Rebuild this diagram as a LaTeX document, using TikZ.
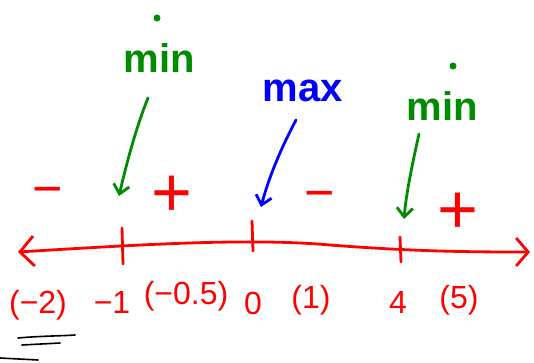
\documentclass[tikz,border=0pt]{standalone}
\usepackage{fontspec}
\setmainfont{Liberation Sans}
\usetikzlibrary{arrows.meta}
\definecolor{hgreen}{RGB}{0,140,0}
\definecolor{hred}{RGB}{255,0,0}
\definecolor{hblue}{RGB}{0,0,255}
\begin{document}
\begin{tikzpicture}[x=1pt,y=-1pt,
  pen/.style={line width=2.8pt,line cap=round,line join=round},
  lbl/.style={font=\fontsize{32}{34}\selectfont,inner sep=0pt,text=hred},
  word/.style={font=\fontsize{40}{42}\selectfont\bfseries,inner sep=0pt},
  sgnm/.style={font=\fontsize{52}{54}\selectfont,inner sep=0pt,text=hred},
  sgnp/.style={font=\fontsize{70}{72}\selectfont,inner sep=0pt,text=hred},
  callout/.style={pen,-{Straight Barb[length=9pt,width=16pt]}}]
\useasboundingbox (0,0) rectangle (534,363);
% dots
\fill[hgreen] (157,18) circle (3.5pt) coordinate (dot1);
\fill[hgreen] (453,66) circle (3.5pt) coordinate (dot2);
% words
\node[word,text=hgreen] (min1) at (159,58) {min};
\node[word,text=hblue] (max) at (303,91) {max};
\node[word,text=hgreen] (min2) at (442,106) {min};
% number line
\coordinate (L) at (18,252);
\coordinate (R) at (530,252);
\draw[pen,hred,{Straight Barb[length=14pt,width=30pt]}-{Straight Barb[length=12pt,width=28pt]}]
  (L) .. controls (150,244) and (250,238) .. (330,245) .. controls (420,252) and (480,252) .. (R);
% ticks
\draw[pen,hred] (122,228) -- (123,264);
\draw[pen,hred] (252,221) -- (253,251);
\draw[pen,hred] (400,237) -- (401,262);
% callouts
\draw[callout,hgreen] (148,98) .. controls (135,130) and (125,170) .. (119,196);
\draw[callout,hblue] (296,120) .. controls (280,150) and (268,180) .. (261,207);
\draw[callout,hgreen] (419,134) .. controls (412,165) and (406,195) .. (404,219);
% signs
\node[sgnm] (s1) at (48,197) {\textminus};
\node[sgnp] (s2) at (172,196) {+};
\node[sgnm] (s3) at (320,201) {\textminus};
\node[sgnp] (s4) at (458,213) {+};
% labels
\node[lbl] (a) at (38,305) {(\textminus2)};
\node[lbl] (b) at (112,302) {\textminus1};
\node[lbl] (c) at (186,296) {(\textminus0.5)};
\node[lbl] (d) at (253,303) {0};
\node[lbl] (e) at (311,300) {(1)};
\node[lbl] (f) at (398,302) {4};
\node[lbl] (g) at (459,300) {(5)};
% underline
\draw[line width=1.6pt,line cap=round] (18,338) .. controls (40,336) and (60,336) .. (75,335);
\draw[line width=1.6pt,line cap=round] (22,345) -- (60,343);
\draw[line width=1.6pt,line cap=round] (0,358) -- (38,360);
\end{tikzpicture}
\end{document}
